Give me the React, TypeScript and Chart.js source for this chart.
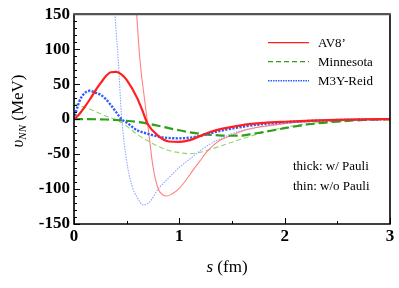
import React, { useEffect, useRef } from "react";
import { Chart, registerables } from "chart.js";

Chart.register(...registerables);

// ---- data (s in fm, v in MeV) ----
const S_AV8_THICK = [0, 0.05, 0.1, 0.15, 0.2, 0.25, 0.3, 0.35, 0.4, 0.45, 0.5, 0.6, 0.65, 0.7, 0.8, 0.9, 1.0, 1.1, 1.2, 1.3, 1.4, 1.6, 1.8, 2.0, 2.25, 2.5, 2.75, 3.0];
const V_AV8_THICK = [0, 7, 17, 28, 40, 51, 61, 67, 67.5, 64, 56, 30, 12, -7, -24, -32, -32.5, -30, -24, -18, -14, -8.5, -5.5, -3.8, -2.2, -1.2, -0.5, 0];

const S_MINN_THICK = [0, 0.1, 0.2, 0.3, 0.4, 0.5, 0.6, 0.7, 0.8, 0.9, 1.0, 1.1, 1.2, 1.3, 1.4, 1.5, 1.6, 1.7, 1.8, 2.0, 2.25, 2.5, 2.75, 3.0];
const V_MINN_THICK = [0, 0, -0.2, -0.6, -1.3, -2.4, -4, -6.5, -9.5, -13, -16, -19, -21, -22.5, -23.5, -23.8, -23.5, -21, -18.5, -13, -7, -3.5, -1.3, -0.2];

const S_M3Y_THICK = [0, 0.05, 0.1, 0.15, 0.2, 0.25, 0.3, 0.35, 0.4, 0.45, 0.5, 0.6, 0.7, 0.8, 0.9, 1.0, 1.1, 1.2, 1.3, 1.4, 1.6, 1.8, 2.0, 2.25, 2.5, 2.75, 3.0];
const V_M3Y_THICK = [0, 25, 37, 40.5, 38, 35, 29, 20, 10, 0, -5, -16, -21, -25, -27, -27.5, -26.5, -24, -20, -16.5, -11, -7, -4.5, -2.6, -1.3, -0.5, 0];

const S_AV8_THIN = [0.54, 0.56, 0.595, 0.627, 0.67, 0.71, 0.75, 0.8, 0.85, 0.88, 0.93, 1.0, 1.07, 1.13, 1.2, 1.26, 1.32, 1.39, 1.48, 1.58, 1.7, 1.8, 2.0, 2.25, 2.5, 2.75, 3.0];
const V_AV8_THIN = [280, 230, 150, 83, 28, -20, -68, -100, -109, -110, -107, -99, -86, -73, -59, -47, -38, -30, -24, -18, -13, -10.5, -6.5, -3.5, -1.5, -0.5, 0];

const S_MINN_THIN = [0, 0.1, 0.2, 0.3, 0.4, 0.5, 0.55, 0.6, 0.7, 0.8, 0.9, 1.0, 1.1, 1.2, 1.3, 1.4, 1.5, 1.6, 1.8, 2.0, 2.25, 2.5, 2.75, 3.0];
const V_MINN_THIN = [22, 17, 11, 4.5, -1, -10, -16, -22, -31, -39, -45, -48, -49.5, -47.5, -43, -38, -33, -28, -19, -12, -6, -3, -1, -0.2];

const S_M3Y_THIN = [0.36, 0.38, 0.4, 0.42, 0.45, 0.5, 0.55, 0.6, 0.66, 0.72, 0.8, 0.9, 1.0, 1.1, 1.2, 1.3, 1.4, 1.5, 1.6, 1.8, 2.0, 2.25, 2.5, 2.75, 3.0];
const V_M3Y_THIN = [220, 170, 125, 85, 7, -60, -95, -112, -123, -118, -100, -84, -69, -57, -45, -35, -27.5, -21, -16, -10, -6, -3.3, -1.6, -0.6, 0];

const X_TICKS = [0, 1, 2, 3];
const Y_TICKS = [-150, -100, -50, 0, 50, 100, 150];

const LEGEND_LABELS = ["AV8\u2019", "Minnesota", "M3Y-Reid"];
const NOTE_LINES = ["thick: w/ Pauli", "thin: w/o Pauli"];

const SERIF = "'Liberation Serif', 'Times New Roman', serif";

const RED = "#ff1f1f";
const RED_THIN = "#ff8080";
const GREEN = "#2f9e1a";
const GREEN_THIN = "#8fd471";
const BLUE = "#2d5cff";
const BLUE_THIN = "#8ca6ff";

function pts(xs: number[], ys: number[]) {
  return xs.map((x, i) => ({ x, y: ys[i] }));
}

const overlayPlugin = {
  id: "overlay",
  afterDraw(chart: any) {
    const ctx: CanvasRenderingContext2D = chart.ctx;
    const { left, top, right, bottom } = chart.chartArea;
    const xs = chart.scales.x;
    const ys = chart.scales.y;
    ctx.save();
    // inward ticks
    ctx.strokeStyle = "#000";
    ctx.lineWidth = 1;
    for (let v = Y_TICKS[0]; v <= Y_TICKS[Y_TICKS.length - 1]; v += 10) {
      const py = Math.round(ys.getPixelForValue(v)) + 0.5;
      const len = v % 50 === 0 ? 6 : 3;
      ctx.beginPath();
      ctx.moveTo(left, py);
      ctx.lineTo(left + len, py);
      ctx.stroke();
    }
    for (let v = 0; v <= 3; v += 0.5) {
      const px = Math.round(xs.getPixelForValue(v)) + 0.5;
      const len = Number.isInteger(v) ? 6 : 3;
      ctx.beginPath();
      ctx.moveTo(px, bottom);
      ctx.lineTo(px, bottom - len);
      ctx.stroke();
    }
    // frame
    ctx.lineWidth = 1.6;
    ctx.strokeStyle = "#000";
    ctx.beginPath();
    ctx.moveTo(left, top);
    ctx.lineTo(left, bottom);
    ctx.lineTo(right, bottom);
    ctx.lineTo(right, top);
    ctx.stroke();
    ctx.strokeStyle = "#555";
    ctx.lineWidth = 2.2;
    ctx.beginPath();
    ctx.moveTo(left - 0.8, top);
    ctx.lineTo(right + 0.8, top);
    ctx.stroke();

    // legend
    const legendStyles = [
      { color: RED, dash: [] as number[], width: 1.2 },
      { color: GREEN, dash: [5, 3], width: 1.2 },
      { color: BLUE, dash: [1.5, 1], width: 1.5 },
    ];
    ctx.font = `13px ${SERIF}`;
    ctx.textBaseline = "middle";
    ctx.textAlign = "left";
    LEGEND_LABELS.forEach((lab, i) => {
      const y = 42.7 + i * 19;
      const st = legendStyles[i];
      ctx.strokeStyle = st.color;
      ctx.lineWidth = st.width;
      ctx.setLineDash(st.dash);
      ctx.beginPath();
      ctx.moveTo(268, y);
      ctx.lineTo(309, y);
      ctx.stroke();
      ctx.setLineDash([]);
      ctx.fillStyle = "#000";
      ctx.fillText(lab, 318, y + 0.5);
    });

    // note
    NOTE_LINES.forEach((t, i) => {
      ctx.fillText(t, 293, 167 + i * 19.5);
    });

    // x title
    ctx.textBaseline = "alphabetic";
    ctx.font = `italic 17px ${SERIF}`;
    const sW = ctx.measureText("s").width;
    ctx.font = `17px ${SERIF}`;
    const restW = ctx.measureText(" (fm)").width;
    const x0 = 227 - (sW + restW) / 2;
    ctx.font = `italic 17px ${SERIF}`;
    ctx.fillText("s", x0, 272);
    ctx.font = `17px ${SERIF}`;
    ctx.fillText(" (fm)", x0 + sW, 272);

    // y title (rotated)
    ctx.translate(18, 111);
    ctx.rotate(-Math.PI / 2);
    ctx.font = `italic 17px ${SERIF}`;
    const uW = ctx.measureText("\u03c5").width;
    ctx.font = `italic 11px ${SERIF}`;
    const nW = ctx.measureText("NN").width;
    ctx.font = `17px ${SERIF}`;
    const mW = ctx.measureText(" (MeV)").width;
    const tot = uW + nW + mW;
    let cx = -tot / 2;
    const base = 4.5;
    ctx.font = `italic 17px ${SERIF}`;
    ctx.fillText("\u03c5", cx, base);
    cx += uW;
    ctx.font = `italic 11px ${SERIF}`;
    ctx.fillText("NN", cx, base + 3.5);
    cx += nW;
    ctx.font = `17px ${SERIF}`;
    ctx.fillText(" (MeV)", cx, base);
    ctx.restore();
  },
};

export default function App() {
  const ref = useRef<HTMLCanvasElement | null>(null);
  useEffect(() => {
    if (!ref.current) return;
    const line = (
      data: { x: number; y: number }[],
      color: string,
      width: number,
      dash: number[]
    ) => ({
      data,
      borderColor: color,
      backgroundColor: color,
      borderWidth: width,
      borderDash: dash,
      pointRadius: 0,
      fill: false,
      cubicInterpolationMode: "monotone" as const,
    });
    const chart = new Chart(ref.current, {
      type: "line",
      data: {
        datasets: [
          line(pts(S_AV8_THICK, V_AV8_THICK), RED, 2.2, []),
          line(pts(S_M3Y_THICK, V_M3Y_THICK), BLUE, 2.4, [2.2, 1.4]),
          line(pts(S_MINN_THICK, V_MINN_THICK), GREEN, 2.2, [9, 4]),
          line(pts(S_AV8_THIN, V_AV8_THIN), RED_THIN, 1.1, []),
          line(pts(S_M3Y_THIN, V_M3Y_THIN), BLUE_THIN, 1.1, [1.5, 1.2]),
          line(pts(S_MINN_THIN, V_MINN_THIN), GREEN_THIN, 1.1, [5, 3]),
        ] as any,
      },
      options: {
        animation: false,
        responsive: false,
        devicePixelRatio: 1,
        layout: { padding: { left: 0, top: 13, right: 9, bottom: 0 } },
        plugins: {
          legend: { display: false },
          tooltip: { enabled: false },
          title: { display: false },
        },
        scales: {
          x: {
            type: "linear",
            min: 0,
            max: 3,
            afterFit: (s: any) => {
              s.height = 64;
            },
            afterBuildTicks: (s: any) => {
              s.ticks = X_TICKS.map((v) => ({ value: v }));
            },
            grid: { display: false, drawTicks: false },
            border: { display: false },
            ticks: {
              padding: 2,
              color: "#000",
              font: { family: SERIF, size: 17, weight: "bold" },
              callback: (v: any) => String(v),
              maxRotation: 0,
            },
          },
          y: {
            type: "linear",
            min: -150,
            max: 150,
            afterFit: (s: any) => {
              s.width = 74;
            },
            afterBuildTicks: (s: any) => {
              s.ticks = Y_TICKS.map((v) => ({ value: v }));
            },
            grid: { display: false, drawTicks: false },
            border: { display: false },
            ticks: {
              padding: 4,
              color: "#000",
              font: { family: SERIF, size: 17, weight: "bold" },
              callback: (v: any) => String(v),
            },
          },
        },
      } as any,
      plugins: [overlayPlugin],
    });
    return () => chart.destroy();
  }, []);
  return (
    <div style={{ position: "absolute", left: 0, top: 0, width: 399, height: 288, background: "#fff" }}>
      <canvas ref={ref} width={399} height={288} style={{ width: 399, height: 288, display: "block" }} />
    </div>
  );
}
